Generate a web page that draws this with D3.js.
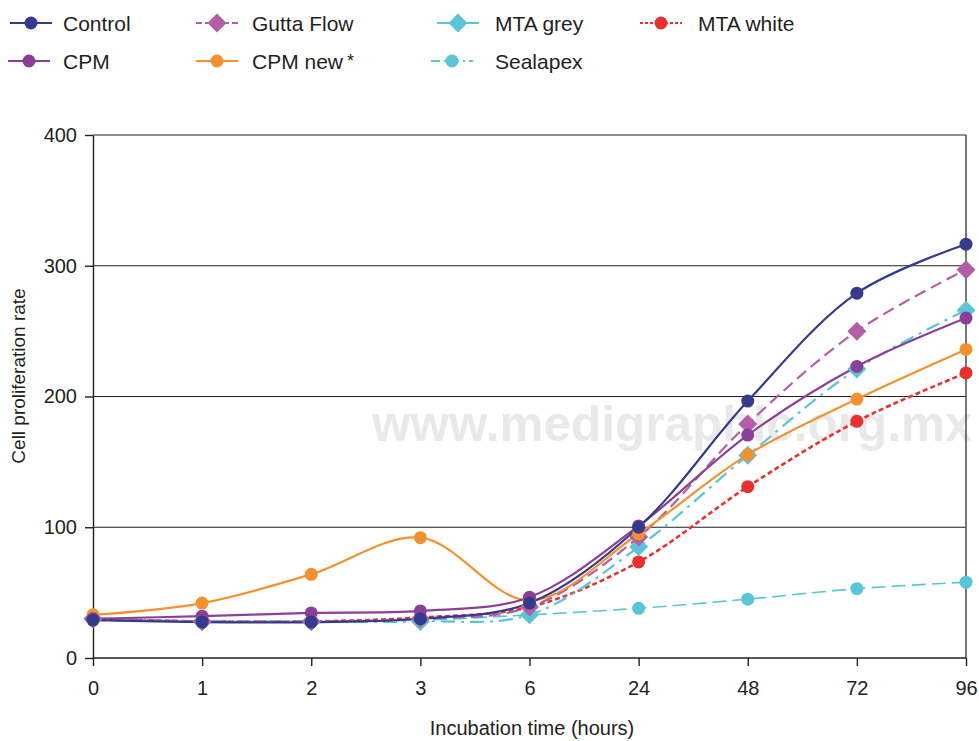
<!DOCTYPE html>
<html><head><meta charset="utf-8">
<script src="https://cdn.jsdelivr.net/npm/d3@7/dist/d3.min.js"></script>
<style>
html,body{margin:0;padding:0;background:#fff;}
svg{display:block;font-family:"Liberation Sans",Arial,Helvetica,sans-serif;}
</style></head>
<body>
<svg id="chart" width="979" height="741"></svg>
<script>
const categories = ["0","1","2","3","6","24","48","72","96"];
const yTicks = [0,100,200,300,400];
const control   = [29, 27.5, 27.5, 30, 42, 100, 196.5, 279, 316.5];
const guttaFlow = [30, 28, 28, 30, 39, 92.5, 179, 250, 297];
const mtaGrey   = [30, 28, 28, 28, 33, 85, 155, 221, 266];
const mtaWhite  = [30, 28, 28, 31, 39, 73.5, 131, 181, 218];
const cpm       = [30, 32, 34.5, 36, 46.5, 101, 170.5, 223, 260];
const cpmNew    = [33, 42, 64, 92, 44, 95, 155.5, 198, 236];
const sealapex  = [29, 28, 28, 29, 33, 38, 45, 53, 58];

const series = [
  {name:"Sealapex", values:sealapex, color:"#5bc5d8", marker:"circle", dash:"14,6", width:1.6, legendDash:"9,4,2,4"},
  {name:"MTA white", values:mtaWhite, color:"#e8312f", marker:"circle", dash:"5,3", width:2.6, legendDash:"3,2"},
  {name:"MTA grey", values:mtaGrey, color:"#5bc5d8", marker:"diamond", dash:"14,6,3,6", width:2.2, legendDash:null},
  {name:"Gutta Flow", values:guttaFlow, color:"#b35fa6", marker:"diamond", dash:"12,6", width:2.2, legendDash:"6,3"},
  {name:"CPM new *", values:cpmNew, color:"#f39130", marker:"circle", dash:null, width:2.2, legendDash:null},
  {name:"CPM", values:cpm, color:"#8b3f98", marker:"circle", dash:null, width:2.2, legendDash:null},
  {name:"Control", values:control, color:"#353a8c", marker:"circle", dash:null, width:2.2, legendDash:null}
];

const svg = d3.select("#chart");
const x = d3.scalePoint().domain(categories).range([93, 966]);
const y = d3.scaleLinear().domain([0, 400]).range([658, 135]);
const ink = "#231f20";

// watermark
svg.append("text").attr("x", 372).attr("y", 441)
  .attr("font-size", 49.5).attr("font-weight", "bold").attr("fill", "#e9e9e9")
  .text("www.medigraphic.org.mx");

// gridlines
svg.append("g").selectAll("line").data(yTicks.filter(d => d > 0 && d < 400)).join("line")
  .attr("x1", 93).attr("x2", 966).attr("y1", d => y(d)).attr("y2", d => y(d))
  .attr("stroke", ink).attr("stroke-width", 1.2);
// frame top and right
svg.append("line").attr("x1", 93).attr("x2", 966).attr("y1", y(400)).attr("y2", y(400)).attr("stroke", ink).attr("stroke-width", 1.2);
svg.append("line").attr("x1", 966).attr("x2", 966).attr("y1", y(400)).attr("y2", y(0)).attr("stroke", "#555").attr("stroke-width", 1.6);

// axes
const yAxis = svg.append("g").attr("transform", "translate(93,0)")
  .call(d3.axisLeft(y).tickValues(yTicks).tickSize(8).tickPadding(8).tickSizeOuter(0));
const xAxis = svg.append("g").attr("transform", "translate(0,658)")
  .call(d3.axisBottom(x).tickSize(8).tickPadding(15).tickSizeOuter(0));
[yAxis, xAxis].forEach(a => {
  a.select(".domain").attr("stroke", ink).attr("stroke-width", 1.4);
  a.selectAll(".tick line").attr("stroke", ink).attr("stroke-width", 1.4);
  a.selectAll(".tick text").attr("fill", ink).attr("font-size", 20)
   .attr("font-family", "'Liberation Sans',Arial,sans-serif");
});
xAxis.select(".domain").attr("d", "M93,0H966");

// axis titles
svg.append("text").attr("x", 532).attr("y", 735).attr("text-anchor", "middle")
  .attr("font-size", 20).attr("fill", ink).text("Incubation time (hours)");
svg.append("text").attr("transform", "translate(25,376) rotate(-90)").attr("text-anchor", "middle")
  .attr("font-size", 19).attr("fill", ink).text("Cell proliferation rate");

// lines
const line = d3.line().x((d, i) => x(categories[i])).y(d => y(d)).curve(d3.curveCatmullRom.alpha(0.5));
const gLines = svg.append("g");
series.forEach(s => {
  gLines.append("path").datum(s.values).attr("d", line)
    .attr("fill", "none").attr("stroke", s.color).attr("stroke-width", s.width)
    .attr("stroke-dasharray", s.dash);
});
const diamond = (cx, cy, r) => `M${cx},${cy - r}L${cx + r},${cy}L${cx},${cy + r}L${cx - r},${cy}Z`;
function marker(g, s, cx, cy) {
  if (s.marker === "circle") g.append("circle").attr("cx", cx).attr("cy", cy).attr("r", 6.5).attr("fill", s.color);
  else g.append("path").attr("d", diamond(cx, cy, 9.5)).attr("fill", s.color);
}
const gPts = svg.append("g");
series.forEach(s => {
  s.values.forEach((v, i) => marker(gPts, s, x(categories[i]), y(v)));
});

// legend
const legendItems = [
  {name:"Control", lx:10, ly:23, tx:63},
  {name:"Gutta Flow", lx:196, ly:23, tx:252},
  {name:"MTA grey", lx:437, ly:23, tx:495},
  {name:"MTA white", lx:640, ly:23, tx:698},
  {name:"CPM", lx:8, ly:61, tx:63},
  {name:"CPM new *", lx:196, ly:61, tx:252},
  {name:"Sealapex", lx:431, ly:61, tx:495}
];
const gLeg = svg.append("g");
legendItems.forEach(it => {
  const s = series.find(d => d.name === it.name);
  gLeg.append("line").attr("x1", it.lx).attr("x2", it.lx + 42).attr("y1", it.ly).attr("y2", it.ly)
    .attr("stroke", s.color).attr("stroke-width", 2).attr("stroke-dasharray", s.legendDash);
  marker(gLeg, s, it.lx + 21, it.ly);
  const t = gLeg.append("text").attr("x", it.tx).attr("y", it.ly + 7.5)
    .attr("font-size", 21).attr("fill", ink);
  if (it.name === "CPM new *") {
    t.append("tspan").text("CPM new");
    t.append("tspan").attr("dx", 4).attr("dy", -2).attr("font-size", 18).text("*");
  } else t.text(it.name);
});
</script>
</body></html>
